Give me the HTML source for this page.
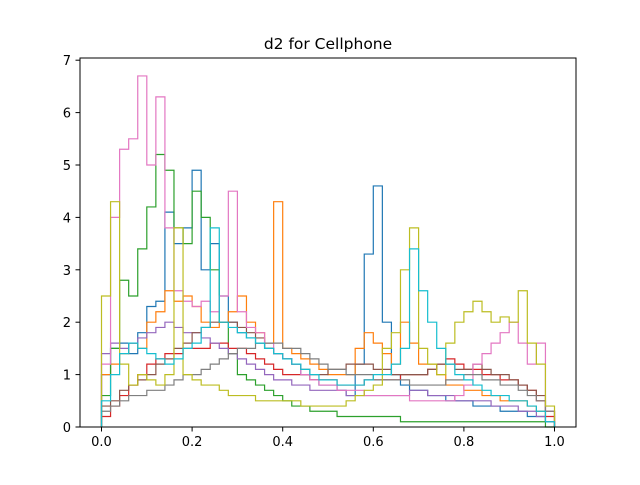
<!DOCTYPE html>
<html><head><meta charset="utf-8"><style>
body{margin:0;background:#fff;font-family:"Liberation Sans","DejaVu Sans",sans-serif}
svg text{font-family:"DejaVu Sans","Liberation Sans",sans-serif;font-size:13px;fill:#000}
</style></head><body>
<svg id="chart" width="640" height="480">
<rect x="0" y="0" width="640" height="480" fill="#fff"/>
<text x="328" y="49" text-anchor="middle" style="font-size:15.5px">d2 for Cellphone</text>
<g id="series"></g>
<rect x="80" y="58" width="496" height="369" fill="none" stroke="#000" stroke-width="1"/>
<g id="xticks"></g>
<g id="yticks"></g>
</svg>
<script>
const xTicks=[0,0.2,0.4,0.6,0.8,1.0];
const xTickLabels=["0.0","0.2","0.4","0.6","0.8","1.0"];
const yTicks=[0,1,2,3,4,5,6,7];
const colors=["#1f77b4","#ff7f0e","#2ca02c","#d62728","#9467bd","#8c564b","#e377c2","#7f7f7f","#bcbd22","#17becf"];
// 50 bins of width 0.02 each
const sBlue=[1.0,1.5,1.6,1.4,1.8,2.3,2.4,4.1,3.5,3.8,4.9,3.0,3.5,2.5,2.0,1.8,1.7,1.6,1.5,1.4,1.3,1.2,1.0,0.9,0.8,0.8,0.7,0.6,1.2,3.3,4.6,2.0,1.0,0.8,0.7,0.7,0.6,0.6,0.5,0.5,0.5,0.4,0.4,0.4,0.3,0.3,0.3,0.2,0.2,0.1];
const sOrange=[1.0,1.2,1.4,1.6,1.5,2.0,2.2,2.6,2.4,2.5,2.3,2.0,1.9,2.0,2.2,2.5,2.0,1.8,1.6,4.3,1.5,1.4,1.3,1.2,1.1,1.0,1.0,1.0,1.5,1.8,1.6,1.4,1.2,2.0,1.6,1.2,1.2,1.0,0.8,0.8,0.7,0.7,0.6,0.6,0.5,0.5,0.5,0.4,0.3,0.1];
const sGreen=[0.6,1.5,2.8,2.5,3.4,4.2,5.2,4.9,3.8,3.5,4.5,4.0,3.0,2.0,1.4,1.0,0.9,0.8,0.7,0.6,0.5,0.4,0.4,0.3,0.3,0.3,0.2,0.2,0.2,0.2,0.2,0.2,0.2,0.1,0.1,0.1,0.1,0.1,0.1,0.1,0.1,0.1,0.1,0.1,0.1,0.1,0.1,0.1,0.1,0.0];
const sRed=[0.2,0.4,0.6,0.8,1.0,1.2,1.3,1.4,1.4,1.5,1.5,1.5,1.6,1.6,1.5,1.5,1.4,1.3,1.2,1.1,1.0,1.0,1.0,0.9,0.9,0.9,0.8,0.8,0.8,0.9,0.9,0.9,0.9,1.0,1.0,1.0,1.1,1.2,1.3,1.2,1.1,1.1,1.0,1.0,0.9,0.9,0.8,0.7,0.5,0.2];
const sPurple=[1.4,1.6,1.5,1.6,1.7,1.8,1.9,2.0,1.9,1.8,1.8,1.7,1.6,1.5,1.4,1.3,1.2,1.1,1.0,0.9,0.9,0.8,0.8,0.7,0.7,0.7,0.7,0.6,0.6,0.6,0.6,0.6,0.6,0.6,0.7,0.7,0.6,0.6,0.6,0.5,0.5,0.5,0.5,0.4,0.4,0.4,0.3,0.3,0.2,0.1];
const sBrown=[0.4,0.5,0.7,0.8,0.9,1.0,1.2,1.3,1.5,1.6,1.8,1.9,2.0,2.0,2.0,1.9,1.8,1.7,1.5,1.4,1.3,1.2,1.1,1.0,1.0,1.1,1.1,1.2,1.2,1.2,1.1,1.1,1.0,1.0,1.0,1.0,1.1,1.2,1.2,1.1,1.1,1.2,1.1,1.0,1.0,0.9,0.8,0.7,0.6,0.3];
const sPink=[1.2,4.0,5.3,5.5,6.7,5.0,6.3,3.8,2.6,2.4,2.3,2.4,2.2,2.5,4.5,2.2,1.9,1.8,1.6,1.4,1.3,1.2,1.0,0.9,0.8,0.8,0.7,0.7,0.7,0.6,0.6,0.6,0.6,0.6,0.5,0.5,0.5,0.5,0.5,0.6,0.8,1.2,1.4,1.6,1.8,2.0,1.6,1.2,1.6,0.3];
const sGray=[0.3,0.4,0.5,0.6,0.6,0.7,0.7,0.8,0.9,1.0,1.0,1.1,1.2,1.3,1.4,1.5,1.5,1.6,1.6,1.6,1.5,1.5,1.4,1.3,1.2,1.1,1.1,1.0,1.0,1.0,0.9,0.9,0.9,0.9,0.8,0.8,0.8,0.8,0.9,0.9,1.0,1.0,0.9,0.9,0.8,0.8,0.7,0.6,0.5,0.3];
const sOlive=[2.5,4.3,1.2,0.8,1.0,0.9,0.8,1.0,3.8,1.0,0.9,0.8,0.8,0.7,0.6,0.6,0.6,0.5,0.5,0.5,0.5,0.5,0.4,0.4,0.4,0.4,0.4,0.5,0.6,0.7,0.8,1.5,1.8,3.0,3.8,1.5,1.2,1.0,1.6,2.0,2.2,2.4,2.2,2.0,2.1,2.0,2.6,1.6,1.2,0.4];
const sCyan=[0.5,1.0,1.4,1.6,1.5,1.4,1.3,1.2,1.3,1.5,1.6,1.9,3.8,2.0,1.9,1.8,1.7,1.6,1.5,1.4,1.3,1.2,1.1,1.0,0.9,0.9,0.8,0.8,0.8,0.9,1.0,1.0,1.2,1.5,3.4,2.6,2.0,1.5,1.2,1.0,0.9,0.8,0.7,0.6,0.6,0.5,0.5,0.4,0.3,0.1];
const seriesList=[sBlue,sOrange,sGreen,sRed,sPurple,sBrown,sPink,sGray,sOlive,sCyan];
const seriesNames=["series-blue","series-orange","series-green","series-red","series-purple","series-brown","series-pink","series-gray","series-olive","series-cyan"];

const NS="http://www.w3.org/2000/svg";
const X0=101.5,XU=453,Y0=427,YU=52.4;
function sx(v){return X0+v*XU;}
function sy(v){return Y0-v*YU;}
const g=document.getElementById('series');
seriesList.forEach(function(vals,i){
  const n=vals.length,w=1/n;
  let d="M"+sx(0)+","+sy(0);
  vals.forEach(function(v,k){d+=" L"+sx(k*w)+","+sy(v)+" L"+sx((k+1)*w)+","+sy(v);});
  d+=" L"+sx(1)+","+sy(0);
  const p=document.createElementNS(NS,'path');
  p.setAttribute('d',d);p.setAttribute('fill','none');p.setAttribute('stroke',colors[i]);p.setAttribute('stroke-width','1.2');
  
  
  g.appendChild(p);
});
const xg=document.getElementById('xticks');
xTicks.forEach(function(t,i){
  const l=document.createElementNS(NS,'line');
  l.setAttribute('x1',sx(t));l.setAttribute('x2',sx(t));l.setAttribute('y1',427);l.setAttribute('y2',431.5);l.setAttribute('stroke','#000');
  
  
  xg.appendChild(l);
  const tx=document.createElementNS(NS,'text');
  tx.setAttribute('x',sx(t));tx.setAttribute('y',446);tx.setAttribute('text-anchor','middle');tx.textContent=xTickLabels[i];
  
  
  xg.appendChild(tx);
});
const yg=document.getElementById('yticks');
yTicks.forEach(function(t){
  const l=document.createElementNS(NS,'line');
  l.setAttribute('x1',75.5);l.setAttribute('x2',80);l.setAttribute('y1',sy(t));l.setAttribute('y2',sy(t));l.setAttribute('stroke','#000');
  
  
  yg.appendChild(l);
  const tx=document.createElementNS(NS,'text');
  tx.setAttribute('x',71);tx.setAttribute('y',sy(t)+5);tx.setAttribute('text-anchor','end');tx.textContent=String(t);
  
  
  yg.appendChild(tx);
});
</script>
</body></html>
